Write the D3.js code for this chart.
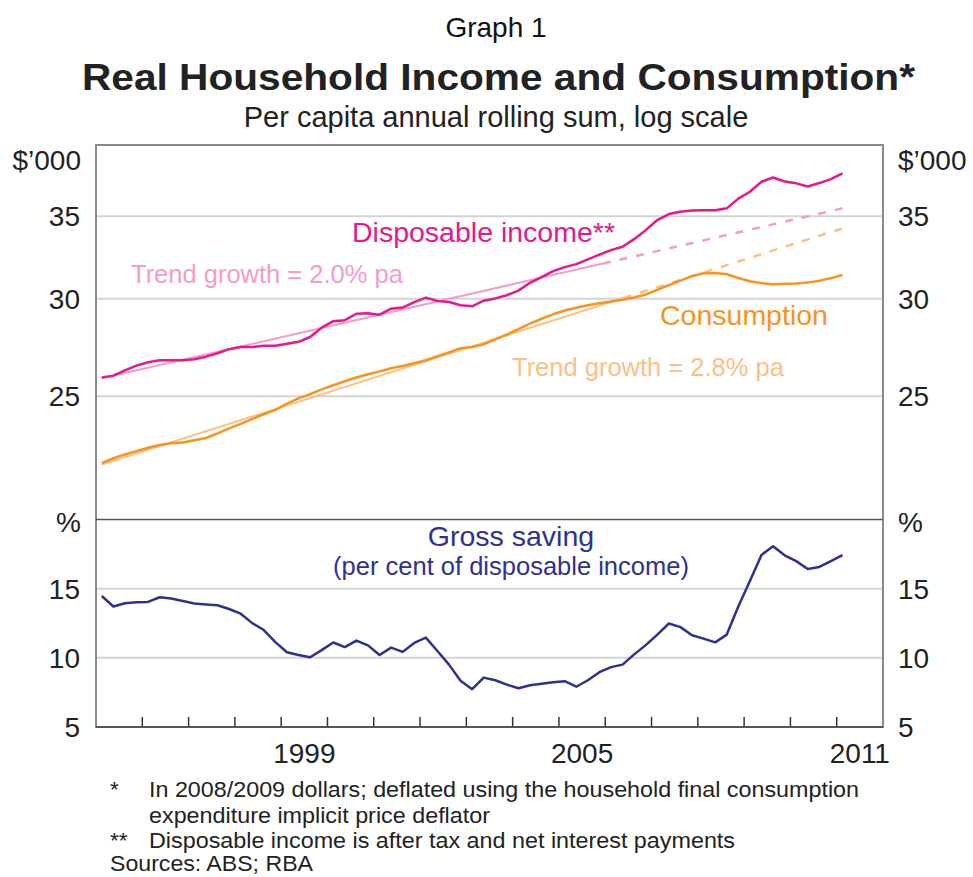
<!DOCTYPE html>
<html>
<head>
<meta charset="utf-8">
<script src="https://cdn.jsdelivr.net/npm/d3@7"></script>
<style>
  body { margin:0; background:#fff; }
  text { font-family: "Liberation Sans", Arial, sans-serif; }
</style>
</head>
<body>
<div id="chart"></div>
<script>
// Real household income & consumption (log scale) + gross saving ratio
// quarterly, Mar-1995 .. Mar-2011
const quarters = d3.range(65).map(i => 1995.125 + i * 0.25);

const income = [25.89,25.98,26.24,26.47,26.64,26.74,26.74,26.74,26.79,26.92,
  27.09,27.30,27.41,27.41,27.48,27.48,27.58,27.68,27.93,28.42,
  28.77,28.82,29.17,29.20,29.12,29.45,29.51,29.81,30.06,29.88,
  29.82,29.64,29.58,29.89,30.02,30.20,30.46,30.91,31.24,31.59,
  31.83,32.01,32.29,32.58,32.86,33.07,33.54,34.11,34.76,35.15,
  35.30,35.38,35.41,35.41,35.53,36.18,36.65,37.34,37.64,37.36,
  37.23,37.01,37.25,37.53,37.94];

const consumption = [22.06,22.26,22.42,22.56,22.70,22.82,22.89,22.93,23.02,23.12,
  23.32,23.54,23.74,23.96,24.17,24.37,24.66,24.90,25.10,25.32,
  25.52,25.71,25.89,26.05,26.19,26.34,26.45,26.59,26.74,26.94,
  27.14,27.35,27.41,27.55,27.81,28.06,28.34,28.64,28.90,29.14,
  29.35,29.50,29.64,29.75,29.85,29.95,30.07,30.24,30.50,30.77,
  31.04,31.30,31.47,31.48,31.41,31.19,31.00,30.89,30.83,30.86,
  30.87,30.92,31.03,31.18,31.36];

const saving = [14.47,13.71,13.95,14.01,14.04,14.38,14.29,14.11,13.93,13.86,
  13.80,13.53,13.19,12.51,12.01,11.14,10.40,10.21,10.04,10.56,
  11.11,10.78,11.25,10.90,10.20,10.74,10.43,11.08,11.46,10.49,
  9.51,8.35,7.73,8.57,8.38,8.06,7.80,8.02,8.13,8.24,
  8.31,7.91,8.38,8.96,9.33,9.51,10.25,10.92,11.68,12.48,
  12.22,11.63,11.39,11.12,11.68,13.71,15.56,17.44,18.06,17.41,
  16.99,16.42,16.57,16.99,17.42];

// trend lines: [start, end of fitted part, end of extrapolation]
const incomeTrend = [[1995.125, 25.85], [2005.95, 32.04], [2011.125, 35.53]];
const consTrend   = [[1995.125, 22.0],  [2006.4, 30.05],  [2011.125, 34.22]];

const topTicks = [25, 30, 35];
const botTicks = [5, 10, 15];
const yearTicks = d3.range(1996, 2012);
const yearLabels = [1999, 2005, 2011];

const footnotes = [
  ["*",  "In 2008/2009 dollars; deflated using the household final consumption"],
  ["",   "expenditure implicit price deflator"],
  ["**", "Disposable income is after tax and net interest payments"]
];

const W = 973, H = 877;
const C = { pink:"#e8178a", pinkLt:"#f59cc8", orange:"#f7941d", orangeLt:"#fdbf84", navy:"#2e3192" };

const svg = d3.select("#chart").append("svg")
  .attr("width", W).attr("height", H);
svg.append("rect").attr("width", W).attr("height", H).attr("fill", "#fff");

const x = d3.scaleLinear().domain([1995, 2012]).range([96, 883]);
const yTop = d3.scaleLog().domain([19.85, 40]).range([519.5, 145]);
const yBot = d3.scaleLinear().domain([5, 20]).range([727, 519.5]);

// gridlines
svg.append("g").selectAll("line").data(topTicks).enter().append("line")
  .attr("x1", x.range()[0]).attr("x2", x.range()[1])
  .attr("y1", d => yTop(d)).attr("y2", d => yTop(d))
  .attr("stroke", "#d4d4d4").attr("stroke-width", 2);
svg.append("g").selectAll("line").data(botTicks.slice(1)).enter().append("line")
  .attr("x1", x.range()[0]).attr("x2", x.range()[1])
  .attr("y1", d => yBot(d)).attr("y2", d => yBot(d))
  .attr("stroke", "#d4d4d4").attr("stroke-width", 2);

// tick labels left & right
const tickFont = "28px";
function yLabels(ticks, scale){
  [[80, "end"], [898, "start"]].forEach(([tx, anchor]) => {
    svg.append("g").selectAll("text").data(ticks).enter().append("text")
      .attr("x", tx).attr("y", d => scale(d) + 10)
      .attr("text-anchor", anchor)
      .style("font-size", tickFont).style("fill", "#222")
      .text(d => d);
  });
}
yLabels(topTicks, yTop);
yLabels(botTicks, yBot);

[[81, "end"], [898, "start"]].forEach(([tx, anchor]) => {
  svg.append("text").attr("x", tx).attr("y", 170).attr("text-anchor", anchor)
    .style("font-size", tickFont).style("fill", "#222").text("$\u2019000");
  svg.append("text").attr("x", tx).attr("y", 532).attr("text-anchor", anchor)
    .style("font-size", tickFont).style("fill", "#222").text("%");
});

// x ticks (inside, upward) and year labels
svg.append("g").selectAll("line").data(yearTicks).enter().append("line")
  .attr("x1", d => x(d)).attr("x2", d => x(d))
  .attr("y1", yBot(5)).attr("y2", yBot(5) - 10)
  .attr("stroke", "#333").attr("stroke-width", 1.5);
svg.append("g").selectAll("text").data(yearLabels).enter().append("text")
  .attr("x", d => x(d + 0.5)).attr("y", 763)
  .attr("text-anchor", "middle")
  .style("font-size", tickFont).style("fill", "#222")
  .text(d => d);

// trend lines
const trendLine = d3.line().x(d => x(d[0])).y(d => yTop(d[1]));
function drawTrend(pts, col){
  svg.append("path").datum(pts.slice(0, 2)).attr("d", trendLine)
    .attr("fill", "none").attr("stroke", col).attr("stroke-width", 2);
  svg.append("path").datum(pts.slice(1)).attr("d", trendLine)
    .attr("fill", "none").attr("stroke", col).attr("stroke-width", 2.5)
    .attr("stroke-dasharray", "8,9");
}
drawTrend(incomeTrend, C.pinkLt);
drawTrend(consTrend, C.orangeLt);

// series
const lineTop = d3.line().x((d, i) => x(quarters[i])).y(d => yTop(d));
const lineBot = d3.line().x((d, i) => x(quarters[i])).y(d => yBot(d));
svg.append("path").datum(consumption).attr("d", lineTop)
  .attr("fill", "none").attr("stroke", C.orange).attr("stroke-width", 2.5)
  .attr("stroke-linejoin", "round");
svg.append("path").datum(income).attr("d", lineTop)
  .attr("fill", "none").attr("stroke", C.pink).attr("stroke-width", 2.5)
  .attr("stroke-linejoin", "round");
svg.append("path").datum(saving).attr("d", lineBot)
  .attr("fill", "none").attr("stroke", C.navy).attr("stroke-width", 2.5)
  .attr("stroke-linejoin", "round");

// frame + panel divider
svg.append("rect")
  .attr("x", x.range()[0]).attr("y", yTop.range()[1])
  .attr("width", x.range()[1] - x.range()[0])
  .attr("height", yBot.range()[0] - yTop.range()[1])
  .attr("fill", "none").attr("stroke", "#8a8a8a").attr("stroke-width", 2);
svg.append("line")
  .attr("x1", x.range()[0]).attr("x2", x.range()[1])
  .attr("y1", yBot(20)).attr("y2", yBot(20))
  .attr("stroke", "#555").attr("stroke-width", 1.5);
svg.append("line")
  .attr("x1", x.range()[0]).attr("x2", x.range()[1])
  .attr("y1", yBot(5)).attr("y2", yBot(5))
  .attr("stroke", "#555").attr("stroke-width", 2);

// series labels
const lab = (tx, ty, txt, col, size, anchor) => svg.append("text")
  .attr("x", tx).attr("y", ty).attr("text-anchor", anchor || "start")
  .style("font-size", size).style("fill", col).text(txt);
lab(352, 242, "Disposable income**", C.pink, "28.5px");
lab(131, 283, "Trend growth = 2.0% pa", C.pinkLt, "25.5px");
lab(660, 325, "Consumption", C.orange, "28.5px");
lab(512, 376, "Trend growth = 2.8% pa", C.orangeLt, "25.5px");
lab(511, 546, "Gross saving", C.navy, "28.5px", "middle");
lab(511, 575, "(per cent of disposable income)", C.navy, "25.5px", "middle");

// titles
svg.append("text").attr("x", 496).attr("y", 37).attr("text-anchor", "middle")
  .style("font-size", "28px").style("fill", "#111").text("Graph 1");
svg.append("text").attr("x", 82).attr("y", 90)
  .attr("textLength", 833).attr("lengthAdjust", "spacingAndGlyphs")
  .style("font-size", "37px").style("font-weight", "700").style("fill", "#222")
  .text("Real Household Income and Consumption*");
svg.append("text").attr("x", 496).attr("y", 127).attr("text-anchor", "middle")
  .style("font-size", "29px").style("fill", "#222")
  .text("Per capita annual rolling sum, log scale");

// footnotes
const noteY = [797, 823, 848];
const noteW = [710, 341, 586];
footnotes.forEach((f, i) => {
  svg.append("text").attr("x", 110).attr("y", noteY[i])
    .style("font-size", "22.5px").style("fill", "#222").text(f[0]);
  svg.append("text").attr("x", 149).attr("y", noteY[i])
    .attr("textLength", noteW[i]).attr("lengthAdjust", "spacingAndGlyphs")
    .style("font-size", "22.5px").style("fill", "#222").text(f[1]);
});
svg.append("text").attr("x", 110).attr("y", 871)
  .attr("textLength", 203).attr("lengthAdjust", "spacingAndGlyphs")
  .style("font-size", "22.5px").style("fill", "#222").text("Sources: ABS; RBA");
</script>
</body>
</html>
